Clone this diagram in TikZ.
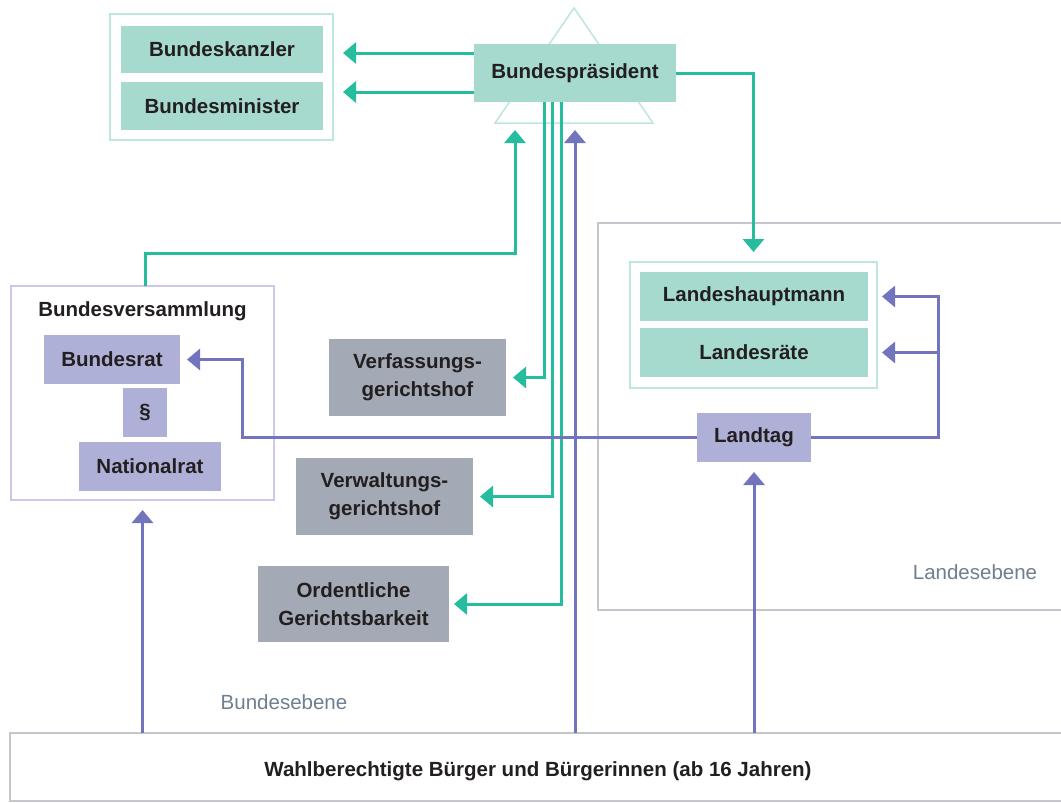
\documentclass[tikz,border=0pt]{standalone}
\usepackage{fontspec}
\setmainfont{Liberation Sans}
\usetikzlibrary{arrows.meta,calc}
\definecolor{tealline}{HTML}{26BC9E}
\definecolor{tealfill}{HTML}{A6DACF}
\definecolor{teallight}{HTML}{BDE6DD}
\definecolor{purpline}{HTML}{7275BE}
\definecolor{purpfill}{HTML}{AEB0D8}
\definecolor{purplight}{HTML}{C9CAE9}
\definecolor{grayfill}{HTML}{A3AAB5}
\definecolor{bordergray}{HTML}{C3C6CC}
\definecolor{lblcolor}{HTML}{6E7F90}
\definecolor{txt}{HTML}{231F20}
\begin{document}
\begin{tikzpicture}[x=1pt,y=-1pt,
  box/.style={rectangle, inner sep=0pt, outer sep=0pt, font=\fontsize{20.5}{28}\selectfont\bfseries, text=txt, align=center},
  tbox/.style={box, fill=tealfill},
  pbox/.style={box, fill=purpfill},
  gbox/.style={box, fill=grayfill},
  tgroup/.style={rectangle, inner sep=0pt, outer sep=0pt, draw=teallight, line width=1.5pt, fill=white},
  pgroup/.style={rectangle, inner sep=0pt, outer sep=0pt, draw=purplight, line width=1.5pt, fill=white},
  lgroup/.style={rectangle, inner sep=0pt, outer sep=0pt, draw=bordergray, line width=1.5pt, fill=white},
  lbl/.style={font=\fontsize{20.5}{24}\selectfont, text=lblcolor, inner sep=0pt},
  tarr/.style={draw=tealline, line width=3pt, -{Triangle[length=13pt,width=21pt]}},
  parr/.style={draw=purpline, line width=3pt, -{Triangle[length=13pt,width=21pt]}}
]
\clip (0,0) rectangle (1061,803);
\fill[white] (0,0) rectangle (1061,803);

% Federal government group
\node[tgroup, minimum width=223pt, minimum height=126pt] (gov) at (221.5,77) {};
\node[tbox, minimum width=202pt, minimum height=47pt] (bk) at (222,49.5) {Bundeskanzler};
\node[tbox, minimum width=202pt, minimum height=48pt] (bm) at (222,106) {Bundesminister};

% triangle and president
\draw[teallight, line width=1.5pt] (574,8) -- (495,123) -- (653,123) -- cycle;
\node[tbox, minimum width=202pt, minimum height=58pt] (bp) at (575,73) {Bundespräsident};

% Bundesversammlung
\node[pgroup, minimum width=263pt, minimum height=214pt] (bv) at (142.5,393) {};
\node[box] (bvt) at (142.5,311) {Bundesversammlung};
\node[pbox, minimum width=136pt, minimum height=49pt] (br) at (112,359.5) {Bundesrat};
\node[pbox, minimum width=44pt, minimum height=49pt] (par) at (145,412.5) {§};
\node[pbox, minimum width=142pt, minimum height=49pt] (nr) at (150,466.5) {Nationalrat};

% courts
\node[gbox, minimum width=177pt, minimum height=77pt] (vf) at (417.5,377.5) {Verfassungs-\\gerichtshof};
\node[gbox, minimum width=177pt, minimum height=77pt] (vw) at (384.5,496.5) {Verwaltungs-\\gerichtshof};
\node[gbox, minimum width=191pt, minimum height=76pt] (og) at (353.5,604) {Ordentliche\\Gerichtsbarkeit};

% Landesebene
\node[lgroup, minimum width=477pt, minimum height=387pt] (le) at (836.5,416.5) {};
\node[tgroup, minimum width=247pt, minimum height=126pt] (lg) at (753.5,325) {};
\node[tbox, minimum width=228pt, minimum height=49pt] (lh) at (754,296.5) {Landeshauptmann};
\node[tbox, minimum width=228pt, minimum height=49pt] (lr) at (754,352.5) {Landesräte};
\node[pbox, minimum width=114pt, minimum height=49pt] (lt) at (754,437.5) {Landtag};

\node[lbl] (lel) at (975,572) {Landesebene};
\node[lbl] (bel) at (284,702) {Bundesebene};

% voters
\node[box, draw=bordergray, line width=1.5pt, fill=white, minimum width=1056pt, minimum height=68pt, text height=23pt, text depth=4pt] (wb) at (538,767) {Wahlberechtigte Bürger und Bürgerinnen (ab 16 Jahren)};

% coordinates
\coordinate (tk) at (343,53);
\coordinate (tm) at (343,92);
\coordinate (j1) at (515,253);
\coordinate (tbv) at (515,130);
\coordinate (jb) at (242,437.5);
\coordinate (jr) at (938,296.5);

% teal connectors
\draw[tarr] (bp.west |- tk) -- (tk);
\draw[tarr] (bp.west |- tm) -- (tm);
\draw[tarr, shorten >=10pt] (bp.east) -| (lg.north);
\draw[tarr] ([xshift=2.5pt]bv.north) |- (j1) -- (tbv);
\draw[tarr, shorten >=7pt] ([xshift=-31pt]bp.south) |- (vf.east);
\draw[tarr, shorten >=7pt] ([xshift=-23pt]bp.south) |- (vw.east);
\draw[tarr, shorten >=5pt] ([xshift=-14pt]bp.south) |- (og.east);

% purple connectors
\draw[parr, shorten >=10pt] (wb.north -| bv.south) -- (bv.south);
\draw[parr, shorten >=28pt] (wb.north -| bp.south) -- (bp.south);
\draw[parr, shorten >=10pt] (wb.north -| lt.south) -- (lt.south);
\draw[parr, shorten >=7pt] (lt.west) -- (jb) |- (br.east);
\draw[parr, shorten >=14pt] (lt.east) -| (jr) -- (lh.east);
\draw[parr, shorten >=14pt] (jr |- lr.east) -- (lr.east);
\end{tikzpicture}
\end{document}
